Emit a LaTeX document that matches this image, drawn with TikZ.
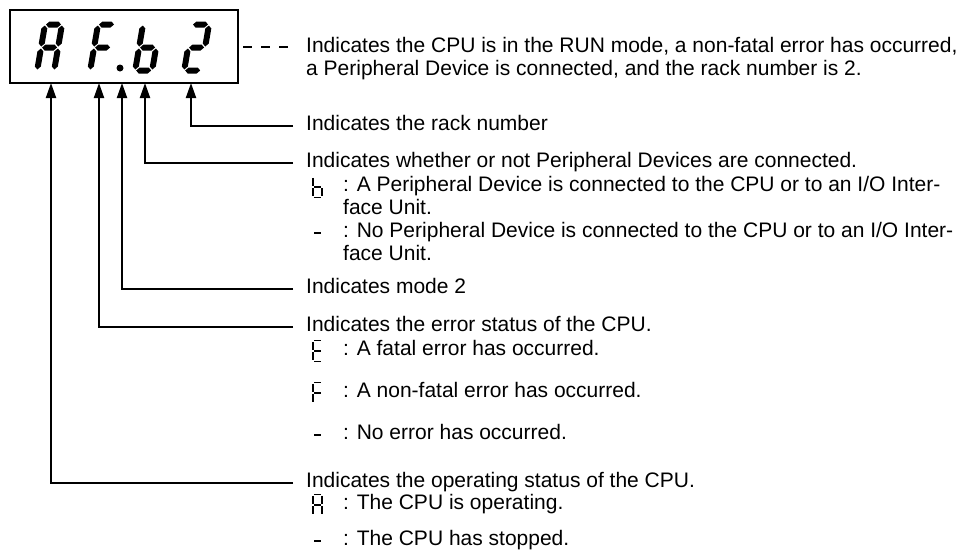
\documentclass[tikz,border=0pt]{standalone}
\usepackage{fontspec}
\setmainfont{Liberation Sans}
\usetikzlibrary{positioning, arrows.meta}

% segments of the large (slanted) display digits
\newcommand{\bseghor}[2]{\fill (#1+1,#2) -- ++(3,-3) -- ++(9,0) -- ++(3,3) -- ++(-3,3) -- ++(-9,0) -- cycle;}
\newcommand{\bsegver}[2]{\fill (#1,#2+1) -- ++(3,3) -- ++(0,15) -- ++(-3,3) -- ++(-3,-3) -- ++(0,-15) -- cycle;}
\newcommand{\bsega}{\bseghor{0}{0}}
\newcommand{\bsegb}{\bsegver{17}{0}}
\newcommand{\bsegc}{\bsegver{17}{23}}
\newcommand{\bsegd}{\bseghor{0}{46}}
\newcommand{\bsege}{\bsegver{0}{23}}
\newcommand{\bsegf}{\bsegver{0}{0}}
\newcommand{\bsegg}{\bseghor{0}{23}}
\newcommand{\segdigit}[3]{\begin{scope}[shift={(#1,#2)}, xslant=0.17]
  \foreach \s in {#3} {\csname bseg\s\endcsname}
\end{scope}}

% segments of the small glyphs in the legend
\newcommand{\ssega}{\draw[segline] (0,0) -- (9,0);}
\newcommand{\ssegb}{\draw[segline] (9,0) -- (9,10.5);}
\newcommand{\ssegc}{\draw[segline] (9,10.5) -- (9,21);}
\newcommand{\ssegd}{\draw[segline] (0,21) -- (9,21);}
\newcommand{\ssege}{\draw[segline] (0,10.5) -- (0,21);}
\newcommand{\ssegf}{\draw[segline] (0,0) -- (0,10.5);}
\newcommand{\ssegg}{\draw[segline] (0,10.5) -- (9,10.5);}
\newcommand{\segglyph}[3]{\begin{scope}[shift={(#1,#2)}]
  \foreach \s in {#3} {\csname sseg\s\endcsname}
\end{scope}}

\begin{document}
\begin{tikzpicture}[x=1pt, y=-1pt,
  font=\fontsize{21pt}{23pt}\selectfont,
  display/.style={draw, line width=2pt, minimum width=228pt, minimum height=73pt, inner sep=0pt},
  pointer/.style={line width=2pt, -{Triangle[length=15pt, width=10pt]}},
  lead/.style={line width=2pt},
  heading/.style={anchor=west, inner xsep=13pt, inner ysep=0pt, text height=14pt, text depth=5pt},
  option/.style={anchor=north west, inner sep=0pt, align=left},
  segline/.style={line width=1.7pt, shorten <=1.3pt, shorten >=1.3pt},
]
  \useasboundingbox (0,0) rectangle (970,550);

  % Display with AF.b2
  \node[display] (disp) at (124,46.5) {};
  \segdigit{45}{24.5}{a,b,c,e,f,g}
  \segdigit{98}{24.5}{a,e,f,g}
  \node[circle, fill, inner sep=0pt, minimum size=7pt] (dot) at (120,68) {};
  \segdigit{143}{24.5}{c,d,e,f,g}
  \segdigit{192}{24.5}{a,b,d,e,g}

  % arrow tips on the display
  \coordinate (tipA) at (51,83);
  \coordinate (tipF) at (99,83);
  \coordinate (tipDot) at (122,83);
  \coordinate (tipB) at (145,83);
  \coordinate (tipTwo) at (191,83);

  % whole display
  \coordinate (infoIn) at (288,46.5);
  \draw[lead, dash pattern=on 9pt off 9pt, dash phase=14pt] (disp.east) -- (infoIn);
  \node[option] (info) at (306,36.7) {Indicates the CPU is in the RUN mode, a non-fatal error has occurred,\\
    a Peripheral Device is connected, and the rack number is 2.};

  % rack number
  \node[heading] (rack) at (293,126) {Indicates the rack number};
  \draw[pointer] (rack.west) -| (tipTwo);

  % peripheral devices
  \node[heading] (periph) at (293,163) {Indicates whether or not Peripheral Devices are connected.};
  \draw[pointer] (periph.west) -| (tipB);
  \segglyph{313}{176.5}{c,d,e,f,g}
  \node[option] (periphon) at (343,175.7) {: A Peripheral Device is connected to the CPU or to an I/O Inter-\\face Unit.};
  \segglyph{313}{222.5}{g}
  \node[option] (periphoff) at (343,221.7) {: No Peripheral Device is connected to the CPU or to an I/O Inter-\\face Unit.};

  % mode
  \node[heading] (mode) at (293,289) {Indicates mode 2};
  \draw[pointer] (mode.west) -| (tipDot);

  % error status
  \node[heading] (err) at (293,327) {Indicates the error status of the CPU.};
  \draw[pointer] (err.west) -| (tipF);
  \segglyph{313}{340.5}{a,d,e,f,g}
  \node[option] (errfatal) at (343,339.7) {: A fatal error has occurred.};
  \segglyph{313}{382.5}{a,e,f,g}
  \node[option] (errnon) at (343,381.7) {: A non-fatal error has occurred.};
  \segglyph{313}{424.5}{g}
  \node[option] (errnone) at (343,423.7) {: No error has occurred.};

  % operating status
  \node[heading] (oper) at (293,483) {Indicates the operating status of the CPU.};
  \draw[pointer] (oper.west) -| (tipA);
  \segglyph{313}{494.5}{a,b,c,e,f,g}
  \node[option] (operrun) at (343,493.7) {: The CPU is operating.};
  \segglyph{313}{530.5}{g}
  \node[option] (operstop) at (343,529.7) {: The CPU has stopped.};
\end{tikzpicture}
\end{document}
